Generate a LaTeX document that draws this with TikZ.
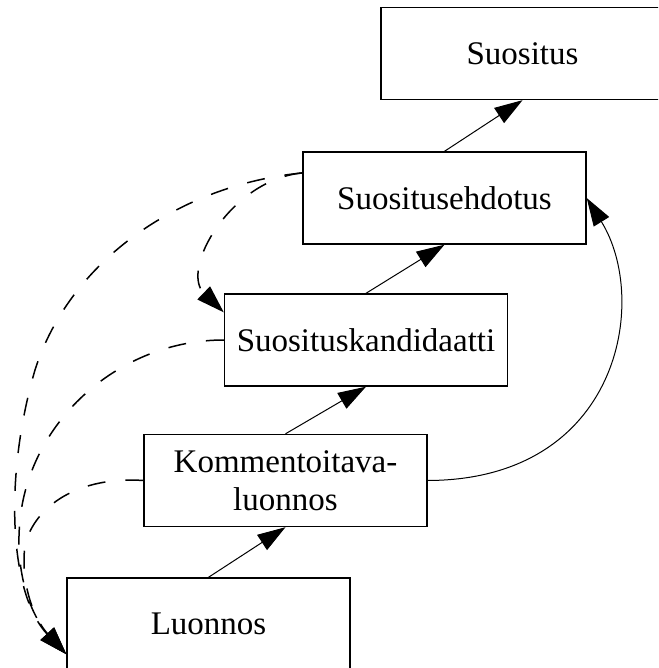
\documentclass[tikz,border=0pt]{standalone}
\usepackage{fontspec}
\setmainfont{Liberation Serif}
\usetikzlibrary{arrows.meta}
\begin{document}
\begin{tikzpicture}[x=1pt,y=-1pt,
  stage/.style={draw, line width=1.4pt, minimum width=283pt, minimum height=92pt,
    inner sep=0pt, align=center, font=\fontsize{33}{38}\selectfont},
  head/.style={-{Triangle[length=28pt,width=18pt]}},
  flow/.style={head, line width=1pt},
  back/.style={head, line width=1.5pt, dash pattern=on 18pt off 20pt}]
\useasboundingbox (0,0) rectangle (658,668);
\clip (0,0) rectangle (658,668);

% stages of the document
\node[stage] (suositus)      at (522.5,53.5) {Suositus};
\node[stage] (ehdotus)       at (444.5,198)  {Suositusehdotus};
\node[stage] (kandidaatti)   at (366,340)    {Suosituskandidaatti};
\node[stage] (kommentoitava) at (285.5,480.5) {Kommentoitava-\\luonnos};
\node[stage] (luonnos)       at (208.5,624)  {Luonnos};

% forward steps
\draw[flow] (luonnos.north) -- (kommentoitava.south);
\draw[flow] (kommentoitava.north) -- (kandidaatti.south);
\draw[flow] (kandidaatti.north) -- (ehdotus.south);
\draw[flow] (ehdotus.north) -- (suositus.south);

% shortcut past the candidate stage
\draw[flow] (kommentoitava.east) .. controls (620,480) and (650,300) .. (ehdotus.east);

% returns to earlier stages
\draw[back] (ehdotus.170) .. controls (230,180) and (180,270) .. (kandidaatti.169);
\draw[back] (ehdotus.170) .. controls (180,185) and (70,260) .. (35,370)
  .. controls (3,480) and (10,595) .. (luonnos.192);
\draw[back] (kandidaatti.west) .. controls (120,340) and (30,420) .. (20,520)
  .. controls (14,580) and (35,620) .. (luonnos.192);
\draw[back] (kommentoitava.west) .. controls (80,476) and (35,505) .. (25,545)
  .. controls (20,585) and (35,620) .. (luonnos.192);
\end{tikzpicture}
\end{document}
